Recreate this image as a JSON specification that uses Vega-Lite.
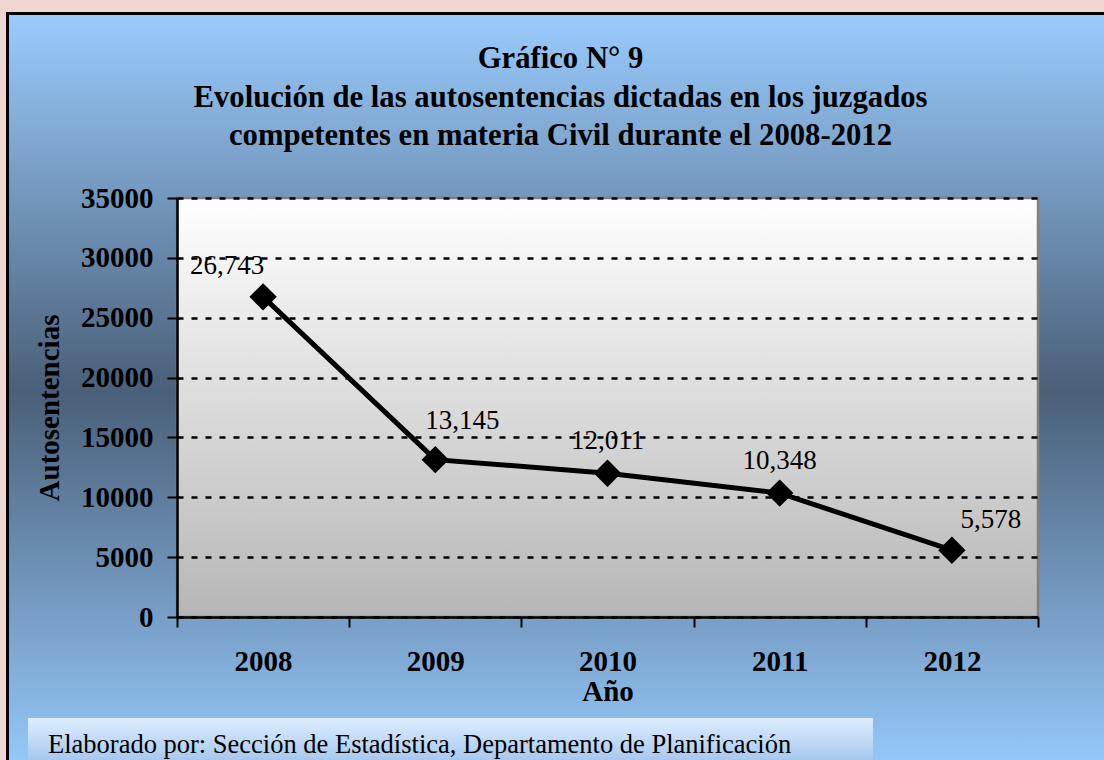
{
  "$schema": "https://vega.github.io/schema/vega-lite/v6.json",
  "width": 861,
  "height": 419,
  "autosize": {"type": "none"},
  "padding": {"left": 177, "top": 198, "right": 66, "bottom": 143},
  "background": "#EFD6D1",
  "title": {
    "text": ["Gráfico N° 9", "Evolución de las autosentencias dictadas en los juzgados", "competentes en materia Civil durante el 2008-2012"],
    "font": "Liberation Serif",
    "fontSize": 30.7,
    "fontWeight": "bold",
    "color": "#000000",
    "anchor": "middle",
    "frame": "group",
    "dx": -47,
    "dy": 189,
    "offset": 49,
    "lineHeight": 38.5
  },
  "config": {
    "view": {"stroke": null},
    "font": "Liberation Serif"
  },
  "data": {
    "values": [
      {"year": "2008", "value": 26743},
      {"year": "2009", "value": 13145},
      {"year": "2010", "value": 12011},
      {"year": "2011", "value": 10348},
      {"year": "2012", "value": 5578}
    ]
  },
  "layer": [
    {
      "data": {"values": [{"panel": "fondo"}]},
      "mark": {
        "type": "rect",
        "xOffset": -169.5,
        "x2Offset": 72,
        "yOffset": -184.5,
        "y2Offset": 153,
        "stroke": "#000000",
        "strokeWidth": 3,
        "fill": {
          "gradient": "linear", "x1": 0, "y1": 0, "x2": 0, "y2": 1,
          "stops": [
            {"offset": 0, "color": "#9ACCFE"},
            {"offset": 0.5, "color": "#4A5F78"},
            {"offset": 1, "color": "#96CAFC"}
          ]
        }
      },
      "encoding": {
        "x": {"datum": "2008", "type": "ordinal", "bandPosition": 0},
        "x2": {"datum": "2012", "bandPosition": 1},
        "y": {"datum": 35000, "type": "quantitative"},
        "y2": {"datum": 0}
      }
    },
    {
      "data": {"values": [{"panel": "area"}]},
      "mark": {
        "type": "rect",
        "stroke": "#808080",
        "strokeWidth": 2.5,
        "fill": {
          "gradient": "linear", "x1": 0, "y1": 0, "x2": 0, "y2": 1,
          "stops": [
            {"offset": 0, "color": "#FFFFFF"},
            {"offset": 1, "color": "#B6B6B6"}
          ]
        }
      },
      "encoding": {
        "x": {"datum": "2008", "type": "ordinal", "bandPosition": 0},
        "x2": {"datum": "2012", "bandPosition": 1},
        "y": {"datum": 35000, "type": "quantitative"},
        "y2": {"datum": 0}
      }
    },
    {
      "data": {"values": [{"panel": "nota"}]},
      "mark": {
        "type": "rect",
        "xOffset": -149,
        "x2Offset": -165,
        "yOffset": 101,
        "y2Offset": 148,
        "fill": {
          "gradient": "linear", "x1": 0, "y1": 0, "x2": 0, "y2": 1,
          "stops": [
            {"offset": 0, "color": "#DEEEFF"},
            {"offset": 1, "color": "#A0C4EC"}
          ]
        }
      },
      "encoding": {
        "x": {"datum": "2008", "type": "ordinal", "bandPosition": 0},
        "x2": {"datum": "2012", "bandPosition": 1},
        "y": {"datum": 0, "type": "quantitative"},
        "y2": {"datum": 0}
      }
    },
    {
      "data": {"values": [{"nota": "Elaborado por: Sección de Estadística, Departamento de Planificación"}]},
      "mark": {
        "type": "text",
        "align": "left",
        "baseline": "alphabetic",
        "dx": -559.5,
        "dy": 345.5,
        "fontSize": 26.5,
        "font": "Liberation Serif",
        "color": "#000000"
      },
      "encoding": {"text": {"field": "nota"}}
    },
    {
      "mark": {
        "type": "line",
        "color": "#000000",
        "strokeWidth": 5,
        "point": {"shape": "diamond", "size": 750, "filled": true, "color": "#000000", "opacity": 1}
      },
      "encoding": {
        "x": {
          "field": "year",
          "type": "ordinal",
          "scale": {"type": "band", "paddingInner": 0, "paddingOuter": 0},
          "axis": {
            "title": "Año",
            "zindex": 1,
            "labelAngle": 0,
            "labelAlign": "center",
            "tickBand": "extent",
            "domainColor": "#000000",
            "domainWidth": 2.5,
            "tickColor": "#000000",
            "tickWidth": 2,
            "tickSize": 10,
            "labelFont": "Liberation Serif",
            "labelFontSize": 29,
            "labelFontWeight": "bold",
            "labelColor": "#000000",
            "labelPadding": 34,
            "titleFont": "Liberation Serif",
            "titleFontSize": 29,
            "titleFontWeight": "bold",
            "titleColor": "#000000",
            "titlePadding": 1,
            "grid": false
          }
        },
        "y": {
          "field": "value",
          "type": "quantitative",
          "scale": {"domain": [0, 35000], "nice": false},
          "axis": {
            "title": "Autosentencias",
            "zindex": 1,
            "values": [0, 5000, 10000, 15000, 20000, 25000, 30000, 35000],
            "format": "d",
            "grid": true,
            "gridColor": "#000000",
            "gridDash": [6, 8],
            "gridWidth": 2.5,
            "domainColor": "#000000",
            "domainWidth": 2.5,
            "tickColor": "#000000",
            "tickWidth": 2,
            "tickSize": 10,
            "labelFont": "Liberation Serif",
            "labelFontSize": 29,
            "labelFontWeight": "bold",
            "labelColor": "#000000",
            "labelPadding": 14,
            "titleFont": "Liberation Serif",
            "titleFontSize": 29,
            "titleFontWeight": "bold",
            "titleColor": "#000000",
            "titlePadding": 16
          }
        }
      }
    },
    {
      "transform": [{"filter": "datum.year == '2008'"}],
      "mark": {"type": "text", "font": "Liberation Serif", "fontSize": 27, "color": "#000000", "align": "center", "baseline": "alphabetic", "dx": -36, "dy": -23},
      "encoding": {
        "x": {"field": "year", "type": "ordinal"},
        "y": {"field": "value", "type": "quantitative"},
        "text": {"field": "value", "type": "quantitative", "format": ","}
      }
    },
    {
      "transform": [{"filter": "datum.year == '2009'"}],
      "mark": {"type": "text", "font": "Liberation Serif", "fontSize": 27, "color": "#000000", "align": "center", "baseline": "alphabetic", "dx": 27, "dy": -31},
      "encoding": {
        "x": {"field": "year", "type": "ordinal"},
        "y": {"field": "value", "type": "quantitative"},
        "text": {"field": "value", "type": "quantitative", "format": ","}
      }
    },
    {
      "transform": [{"filter": "datum.year == '2010' || datum.year == '2011'"}],
      "mark": {"type": "text", "font": "Liberation Serif", "fontSize": 27, "color": "#000000", "align": "center", "baseline": "alphabetic", "dx": 0, "dy": -24},
      "encoding": {
        "x": {"field": "year", "type": "ordinal"},
        "y": {"field": "value", "type": "quantitative"},
        "text": {"field": "value", "type": "quantitative", "format": ","}
      }
    },
    {
      "transform": [{"filter": "datum.year == '2012'"}],
      "mark": {"type": "text", "font": "Liberation Serif", "fontSize": 27, "color": "#000000", "align": "center", "baseline": "alphabetic", "dx": 39, "dy": -22},
      "encoding": {
        "x": {"field": "year", "type": "ordinal"},
        "y": {"field": "value", "type": "quantitative"},
        "text": {"field": "value", "type": "quantitative", "format": ","}
      }
    }
  ]
}
